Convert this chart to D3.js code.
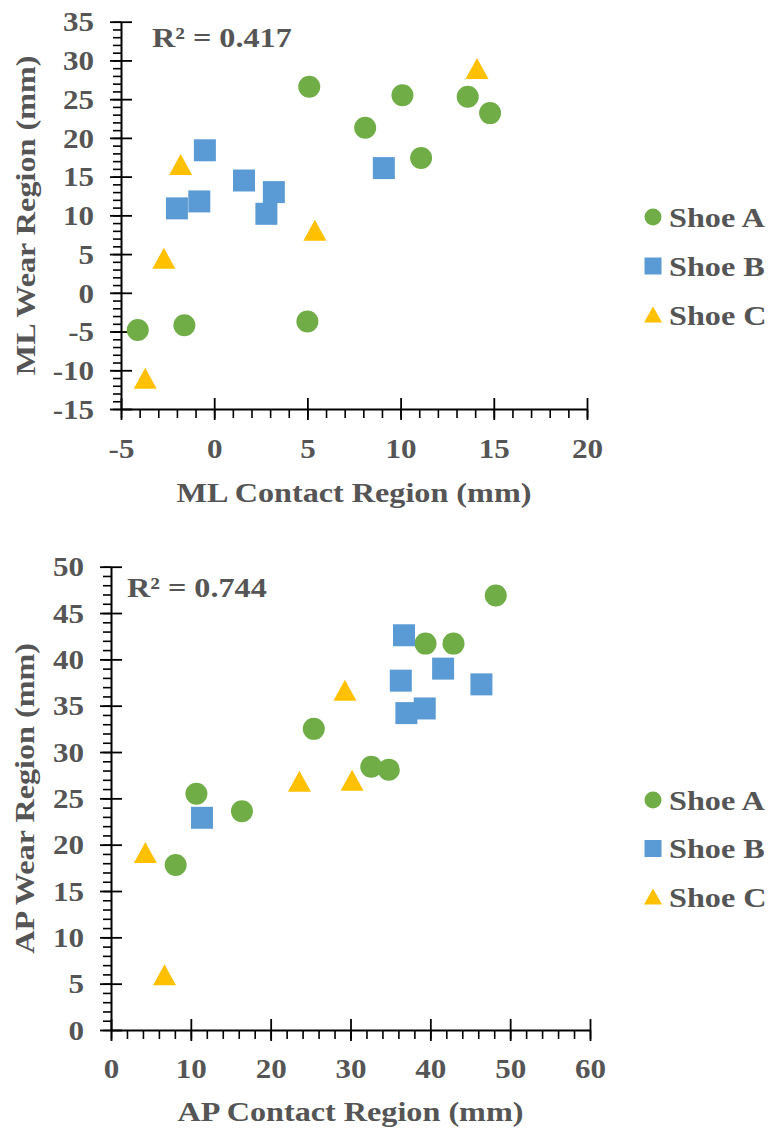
<!DOCTYPE html>
<html>
<head>
<meta charset="utf-8">
<script src="https://cdn.jsdelivr.net/npm/d3@7"></script>
<style>
  body { margin: 0; background: #fff; }
  svg text { font-family: "Liberation Serif", "Times New Roman", serif; font-weight: bold; fill: #555; }
</style>
</head>
<body>
<svg id="chart" width="774" height="1134"></svg>
<script>
// ML panel data [contact, wear]
var mlShoeA = [[5.1, 26.6], [8.1, 21.3], [10.1, 25.5], [11.1, 17.4], [13.6, 25.3], [14.8, 23.2], [-4.1, -4.8], [-1.6, -4.2], [5.0, -3.7]];
var mlShoeB = [[-0.5, 18.4], [-2.0, 10.9], [-0.8, 11.8], [1.6, 14.5], [3.2, 13.0], [2.8, 10.2], [9.1, 16.1]];
var mlShoeC = [[-1.8, 16.5], [-2.7, 4.4], [5.4, 8.0], [-3.7, -11.1], [14.1, 28.9]];

// AP panel data [contact, wear]
var apShoeA = [[48.2, 46.9], [39.4, 41.7], [42.9, 41.7], [25.4, 32.5], [32.6, 28.4], [34.8, 28.1], [10.7, 25.5], [16.4, 23.6], [8.1, 17.8]];
var apShoeB = [[36.7, 42.6], [36.3, 37.7], [37.0, 34.2], [39.3, 34.7], [41.6, 39.0], [46.4, 37.3], [11.4, 22.9]];
var apShoeC = [[29.3, 36.6], [23.6, 26.8], [30.2, 26.9], [4.3, 19.1], [6.7, 5.9]];

var seriesNames = ["Shoe A", "Shoe B", "Shoe C"];
var mlXTicks = [-5, 0, 5, 10, 15, 20];
var mlYTicks = [-15, -10, -5, 0, 5, 10, 15, 20, 25, 30, 35];
var apXTicks = [0, 10, 20, 30, 40, 50, 60];
var apYTicks = [0, 5, 10, 15, 20, 25, 30, 35, 40, 45, 50];
var rSquared = ["R\u00b2 = 0.417", "R\u00b2 = 0.744"];

var colors = ["#70ad47", "#5b9bd5", "#ffc000"];
var stretch = 1.15;   // text in the figure is drawn wide
var svg = d3.select("#chart");

// marker shapes
function markerPath(i, s) {
  if (i == 0) return d3.symbol(d3.symbolCircle, Math.PI * s * s / 4)();
  if (i == 1) return d3.symbol(d3.symbolSquare, s * s)();
  var h = s / 2;
  return "M0," + (-h) + "L" + (h + 0.5) + "," + (h - 1) + "L" + (-h - 0.5) + "," + (h - 1) + "Z";
}

function wideText(g, x, y, txt, size, anchor, rotate) {
  return g.append("text")
    .attr("transform", "translate(" + x + "," + y + ")" + (rotate ? " rotate(-90)" : "") + " scale(" + stretch + ",1)")
    .attr("text-anchor", anchor)
    .style("font-size", size + "px")
    .text(txt);
}

// plain hyphen for negatives, like the original
var fmt = function(d) { return String(d); };

function drawPanel(p) {
  var g = svg.append("g");
  var x = d3.scaleLinear().domain(p.xDomain).range(p.xRange);
  var y = d3.scaleLinear().domain(p.yDomain).range(p.yRange);
  var x0 = p.xRange[0], y0 = p.yRange[0];

  // minor ticks
  g.append("g")
    .attr("transform", "translate(0," + y0 + ")")
    .call(d3.axisBottom(x).tickValues(d3.range(p.xDomain[0], p.xDomain[1] + 0.01, p.xMinor)).tickSize(9).tickFormat(""))
    .call(function(a) { a.select(".domain").remove(); a.selectAll("line").attr("stroke-width", 1.6); });
  g.append("g")
    .attr("transform", "translate(" + x0 + ",0)")
    .call(d3.axisLeft(y).tickValues(d3.range(p.yDomain[0], p.yDomain[1] + 0.01, 1)).tickSize(8).tickFormat(""))
    .call(function(a) { a.select(".domain").remove(); a.selectAll("line").attr("stroke-width", 1.6); });

  // major ticks crossing the axis lines
  var xa = g.append("g")
    .attr("transform", "translate(0," + y0 + ")")
    .call(d3.axisBottom(x).tickValues(p.xTicks).tickFormat(fmt).tickSize(11).tickSizeOuter(0));
  xa.selectAll(".tick line").attr("y1", -11).attr("stroke-width", 1.8);
  xa.select(".domain").attr("stroke-width", 2);
  xa.selectAll(".tick text")
    .attr("y", 0).attr("dy", 0)
    .attr("fill", null)
    .attr("transform", "translate(0," + p.xLabelDy + ") scale(" + stretch + ",1)")
    .style("font-size", "27px");

  var ya = g.append("g")
    .attr("transform", "translate(" + x0 + ",0)")
    .call(d3.axisLeft(y).tickValues(p.yTicks).tickFormat(fmt).tickSize(11).tickSizeOuter(0));
  ya.selectAll(".tick line").attr("x1", 11).attr("stroke-width", 1.8);
  ya.select(".domain").attr("stroke-width", 2);
  ya.selectAll(".tick text")
    .attr("x", 0).attr("dy", "0.34em")
    .attr("fill", null)
    .attr("transform", "translate(-27,0) scale(" + stretch + ",1)")
    .style("font-size", "27px");

  // points
  p.series.forEach(function(pts, i) {
    g.append("g").selectAll("path")
      .data(pts)
      .enter().append("path")
      .attr("d", markerPath(i, 22))
      .attr("transform", function(d) { return "translate(" + x(d[0]) + "," + y(d[1]) + ")"; })
      .attr("fill", colors[i]);
  });

  // titles
  wideText(g, (p.xRange[0] + p.xRange[1]) / 2, p.xTitleY, p.xTitle, 28, "middle");
  wideText(g, p.yTitleX, (p.yRange[0] + p.yRange[1]) / 2, p.yTitle, 28, "middle", true);
  wideText(g, p.rPos[0], p.rPos[1], p.rText, 28, "start");

  // legend
  seriesNames.forEach(function(name, i) {
    var ly = p.legendY + i * p.legendStep;
    g.append("path")
      .attr("d", markerPath(i, 17))
      .attr("transform", "translate(653," + ly + ")")
      .attr("fill", colors[i]);
    wideText(g, 669, ly + 9.5, name, 28, "start");
  });
}

drawPanel({
  series: [mlShoeA, mlShoeB, mlShoeC],
  xDomain: [-5, 20], yDomain: [-15, 35],
  xRange: [121, 587], yRange: [409, 21.7],
  xTicks: mlXTicks, yTicks: mlYTicks, xMinor: 1,
  xLabelDy: 49,
  xTitle: "ML Contact Region (mm)", xTitleY: 502,
  yTitle: "ML Wear Region (mm)", yTitleX: 35,
  rText: rSquared[0], rPos: [152, 47],
  legendY: 217, legendStep: 49
});

drawPanel({
  series: [apShoeA, apShoeB, apShoeC],
  xDomain: [0, 60], yDomain: [0, 50],
  xRange: [111, 590], yRange: [1030, 566.7],
  xTicks: apXTicks, yTicks: apYTicks, xMinor: 2,
  xLabelDy: 48,
  xTitle: "AP Contact Region (mm)", xTitleY: 1121,
  yTitle: "AP Wear Region (mm)", yTitleX: 34,
  rText: rSquared[1], rPos: [127, 597],
  legendY: 800, legendStep: 48.5
});
</script>
</body>
</html>
